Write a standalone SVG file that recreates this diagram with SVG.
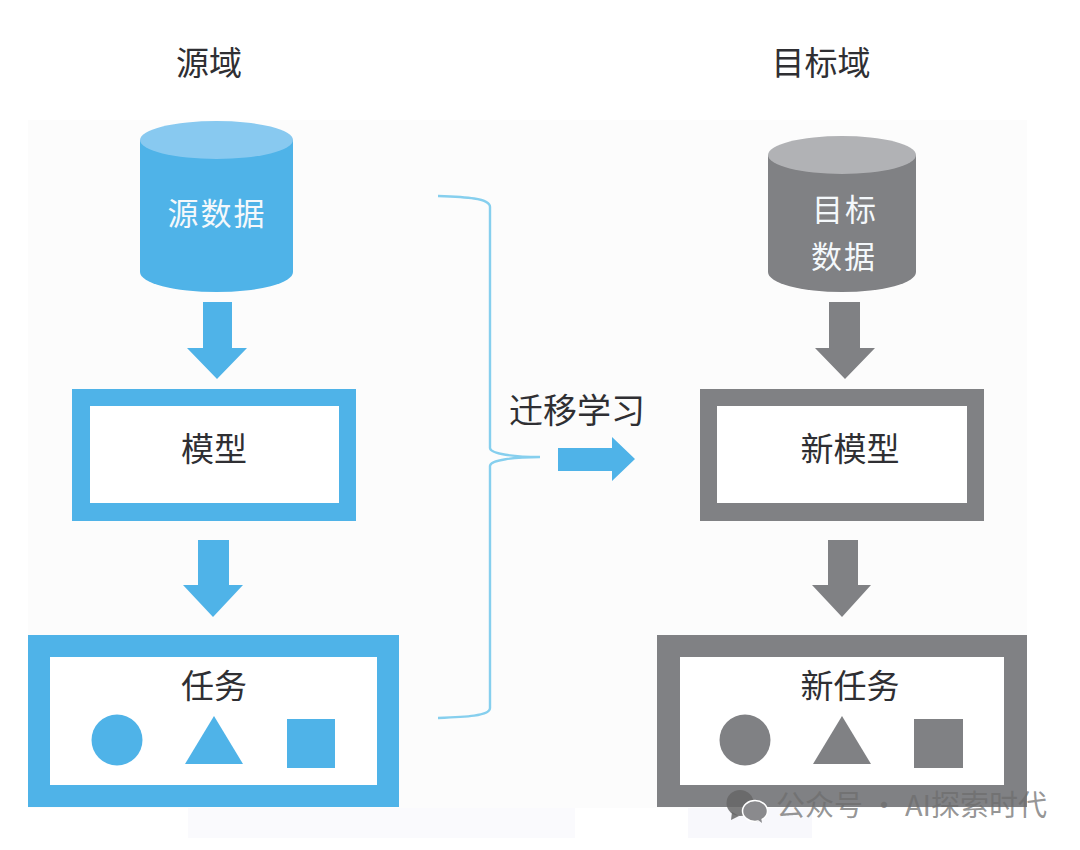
<svg xmlns="http://www.w3.org/2000/svg" width="1080" height="850" viewBox="0 0 1080 850">
<style>
text{font-family:"Noto Sans CJK SC","Noto Sans",sans-serif;text-anchor:middle}
.k{font-size:33px;fill:#2f2f33}
.w{font-size:31px;fill:#f4f8fb;letter-spacing:2px}
.b{fill:#4fb3e8}
.g{fill:#808184}
.i{fill:#fff}
.wm{font-size:29px;fill:#6d6d6d;fill-opacity:.72;text-anchor:start}
</style>
<rect width="1080" height="850" fill="#fff"/>
<rect x="28" y="120" width="999" height="688" fill="#fcfcfc"/>
<rect x="188" y="808" width="387" height="30" fill="#fafafd"/>
<rect x="688" y="808" width="124" height="30" fill="#f8f8fc"/>
<text class="k" x="209" y="75">源域</text>
<text class="k" x="821" y="75">目标域</text>

<g id="source-data">
<path class="b" d="M140 140V272A76.500 20 0 0 0 293 272V140Z"/>
<ellipse cx="216.500" cy="140" rx="76.500" ry="19" fill="#88c9f0"/>
<text class="w" x="217" y="225">源数据</text>
</g>
<g id="target-data">
<path class="g" d="M768 155V272A74 20 0 0 0 916 272V155Z"/>
<ellipse cx="842" cy="155" rx="74" ry="19" fill="#b1b2b5"/>
<text class="w" x="845" y="221">目标</text>
<text class="w" x="844" y="268">数据</text>
</g>
<g id="source-model">
<rect class="b" x="72" y="389" width="284" height="132"/>
<rect class="i" x="90" y="406" width="249" height="97"/>
<text class="k" x="214" y="461">模型</text>
</g>
<g id="target-model">
<rect class="g" x="700" y="389" width="284" height="132"/>
<rect class="i" x="717" y="406" width="250" height="97"/>
<text class="k" x="850" y="461">新模型</text>
</g>
<g id="source-task">
<rect class="b" x="28" y="635" width="371" height="172"/>
<rect class="i" x="50" y="657" width="327" height="128"/>
<text class="k" x="214" y="698">任务</text>
<circle class="b" cx="117" cy="740" r="25.500"/>
<path class="b" d="M185 764H243L214 716Z"/>
<rect class="b" x="287" y="719" width="48" height="49"/>
</g>
<g id="target-task">
<rect class="g" x="657" y="635" width="370" height="172"/>
<rect class="i" x="680" y="657" width="324" height="128"/>
<text class="k" x="850" y="698">新任务</text>
<circle class="g" cx="745" cy="740" r="25.500"/>
<path class="g" d="M813 764H871L842 716Z"/>
<rect class="g" x="914" y="719" width="49" height="49"/>
</g>
<g id="connectors">
<path class="b" d="M203 302H232V348H247L217 379L187 348H203Z"/>
<path class="b" d="M198 540H229V585H243L213 617L183 585H198Z"/>
<path class="g" d="M829 302H860V348H875L845 379L815 348H829Z"/>
<path class="g" d="M828 540H858V585H871L842 617L812 585H828Z"/>
<path fill="none" stroke="#86cfee" stroke-width="2.400" d="M438 196C465 197 490 198 490 207V448C490 454 515 457 540 457C515 457 490 460 490 466V708C490 716 465 717 438 718"/>
<path class="b" d="M558 448H612V437L635 459L612 481V471H558Z"/>
</g>
<text class="k" x="577" y="423" style="font-size:34px">迁移学习</text>
<g id="watermark">
<ellipse cx="740" cy="803" rx="13.500" ry="13" fill="#666" fill-opacity=".85"/>
<path d="M732 812l-1 8 8-4Z" fill="#666" fill-opacity=".85"/>
<ellipse cx="755" cy="811" rx="12.500" ry="10.500" fill="#8a8a8d" stroke="#fff" stroke-width="1.500"/>
<path d="M758 820l4 3-1-6Z" fill="#8a8a8d"/>
<text class="wm" x="776" y="816">公众号 · AI探索时代</text>
</g>
</svg>
